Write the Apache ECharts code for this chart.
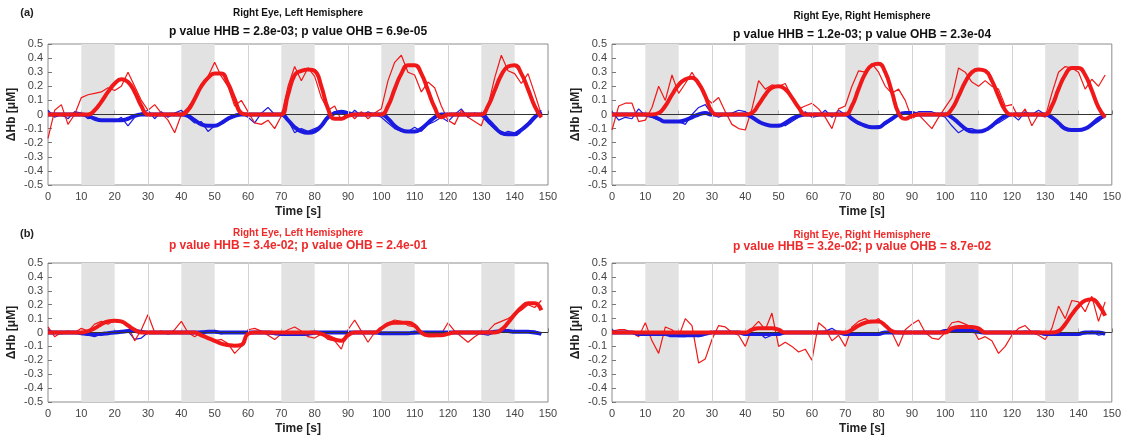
<!DOCTYPE html>
<html>
<head>
<meta charset="utf-8">
<title>Right eye HbO / HbR block averages</title>
<script src="https://cdn.jsdelivr.net/npm/echarts@6/dist/echarts.min.js"></script>
<style>
  html, body { margin: 0; padding: 0; background: #fff; }
  #chart { width: 1124px; height: 439px; }
</style>
</head>
<body>
<div id="chart"></div>
<script>
// sample times [s], one value every 2 s
const time = [
  0, 2, 4, 6, 8, 10, 12, 14, 16, 18,
  20, 22, 24, 26, 28, 30, 32, 34, 36, 38,
  40, 42, 44, 46, 48, 50, 52, 54, 56, 58,
  60, 62, 64, 66, 68, 70, 72, 74, 76, 78,
  80, 82, 84, 86, 88, 90, 92, 94, 96, 98,
  100, 102, 104, 106, 108, 110, 112, 114, 116, 118,
  120, 122, 124, 126, 128, 130, 132, 134, 136, 138,
  140, 142, 144, 146, 148
];

// stimulation blocks (grey)
const stimOnsets = [10, 40, 70, 100, 130];
const stimDuration = 10;
const refLines = [30, 60, 90, 120];

const xTicks = { min: 0, max: 150, step: 10 };
const yTicks = { min: -0.5, max: 0.5, step: 0.1 };

// ---- (a) top left
const tlOxyFit = [
  0, 0, 0, 0, 0, 0, 0, 0.03, 0.09, 0.16,
  0.22, 0.25, 0.23, 0.16, 0.06, 0, 0, 0, 0, 0,
  0, 0.03, 0.11, 0.2, 0.26, 0.29, 0.29, 0.22, 0.11, 0.01,
  0, 0, 0, 0, 0, 0, 0.14, 0.28, 0.31, 0.32,
  0.31, 0.2, 0.04, -0.03, -0.03, -0.01, 0, 0, 0, 0,
  0, 0.06, 0.18, 0.29, 0.35, 0.35, 0.29, 0.17, 0.05, -0.02,
  0, 0, 0, 0, 0, 0, 0.06, 0.17, 0.28, 0.34,
  0.35, 0.29, 0.18, 0.06, -0.02
];
const tlDeoxyFit = [
  0, 0, 0, 0, 0, 0, -0.01, -0.03, -0.04, -0.04,
  -0.04, -0.04, -0.03, -0.01, 0, 0, 0, 0, 0, 0,
  0, -0.01, -0.04, -0.07, -0.08, -0.08, -0.06, -0.03, -0.01, 0,
  0, 0, 0, 0, 0, 0, -0.04, -0.09, -0.12, -0.13,
  -0.12, -0.08, -0.02, 0.01, 0.02, 0.01, 0, 0, 0, 0,
  0, -0.03, -0.08, -0.11, -0.12, -0.12, -0.1, -0.06, -0.02, 0,
  0, 0, 0, 0, 0, 0, -0.04, -0.09, -0.13, -0.14,
  -0.14, -0.11, -0.07, -0.02, 0.02
];
const tlOxyRaw = [
  -0.17, 0.03, 0.07, -0.07, 0.0, 0.12, 0.14, 0.15, 0.16, 0.19,
  0.17, 0.2, 0.3, 0.2, 0.1, 0.03, 0.07, 0.01, -0.04, -0.13,
  0.0, 0.05, 0.12, 0.21, 0.27, 0.37, 0.27, 0.2, 0.06, 0.1,
  0.02, -0.06, -0.07, -0.04, -0.1, -0.01, 0.2, 0.34, 0.24, 0.33,
  0.27, 0.12, 0.03, 0.06, -0.04, 0.02, -0.03, 0.02, -0.03, 0.01,
  0.04, 0.24, 0.37, 0.42, 0.3, 0.28, 0.16, 0.23, 0.19, 0.06,
  -0.04, -0.07, 0.03, -0.02, -0.05, -0.08, 0.06, 0.26, 0.42, 0.31,
  0.29, 0.22, 0.29, 0.15, 0.0
];
const tlDeoxyRaw = [
  0.03, -0.02, 0.0, -0.03, 0.02, 0.01, -0.03, -0.02, -0.04, -0.04,
  -0.05, -0.02, -0.08, -0.02, 0.01, 0.03, -0.03, 0.02, -0.02, 0.01,
  0.03, -0.02, -0.06, -0.05, -0.12, -0.08, -0.06, -0.02, 0.0, 0.01,
  -0.02, -0.06, 0.01, 0.05, 0.0, 0.0, -0.04, -0.13, -0.1, -0.12,
  -0.1, -0.08, -0.03, 0.02, 0.01, -0.02, 0.03, -0.01, 0.02, 0.0,
  -0.02, -0.06, -0.1, -0.12, -0.12, -0.09, -0.12, -0.07, -0.05, -0.02,
  -0.05, 0.0, 0.04, -0.02, 0.01, -0.01, -0.06, -0.1, -0.14, -0.12,
  -0.13, -0.1, -0.06, -0.02, 0.03
];

// ---- (a) top right
const trOxyFit = [
  0, 0, 0, 0, 0, 0, 0, 0.01, 0.06, 0.14,
  0.21, 0.25, 0.26, 0.22, 0.13, 0.02, 0, 0, 0, 0,
  0, 0.01, 0.07, 0.14, 0.19, 0.2, 0.18, 0.12, 0.05, 0,
  0, 0, 0, 0, 0, 0, 0.06, 0.18, 0.29, 0.35,
  0.36, 0.3, 0.16, 0.01, -0.03, -0.01, 0, 0, 0, 0,
  0, 0.04, 0.13, 0.23, 0.3, 0.32, 0.31, 0.24, 0.13, 0.03,
  0, 0, 0, 0, 0, 0, 0.06, 0.18, 0.28, 0.33,
  0.33, 0.28, 0.17, 0.05, -0.02
];
const trDeoxyFit = [
  0, 0, 0, 0, 0, 0, -0.01, -0.03, -0.05, -0.05,
  -0.05, -0.04, -0.02, 0, 0.01, 0, 0, 0, 0, 0,
  0, -0.02, -0.05, -0.07, -0.08, -0.08, -0.06, -0.03, -0.01, 0,
  0, 0, 0, 0, 0, 0, -0.03, -0.06, -0.08, -0.09,
  -0.09, -0.06, -0.03, 0, 0.01, 0.01, 0, 0, 0, 0,
  0, -0.02, -0.06, -0.1, -0.12, -0.12, -0.11, -0.08, -0.04, -0.01,
  0, 0, 0, 0, 0, 0, -0.02, -0.06, -0.1, -0.11,
  -0.11, -0.1, -0.07, -0.03, -0.01
];
const trOxyRaw = [
  -0.11, 0.06, 0.08, 0.08, -0.05, -0.04, 0.05, 0.2, 0.1, 0.28,
  0.15, 0.22, 0.3, 0.22, 0.12, 0.08, 0.12, 0.02, -0.07, -0.1,
  -0.11, 0.04, 0.24, 0.18, 0.21, 0.2, 0.22, 0.12, 0.04, 0.06,
  0.08, 0.04, -0.02, -0.1, 0.04, 0.06, 0.2, 0.31, 0.3, 0.36,
  0.3, 0.2, 0.15, 0.18, 0.1, -0.03, 0.0, -0.05, -0.1, -0.02,
  0.05, 0.12, 0.33, 0.3, 0.23, 0.2, 0.24, 0.2, 0.18, 0.06,
  0.07, -0.02, 0.04, -0.08, 0.0, -0.02, 0.15, 0.3, 0.34, 0.33,
  0.3, 0.18, 0.25, 0.2, 0.28
];
const trDeoxyRaw = [
  0.02, -0.04, -0.02, -0.03, 0.04, -0.01, -0.02, -0.04, -0.05, -0.05,
  -0.05, -0.07, 0.0, 0.05, 0.07, 0.0, -0.02, 0.0, 0.01, 0.03,
  0.02, -0.01, -0.06, -0.07, -0.08, -0.07, -0.08, -0.05, -0.02, 0.02,
  -0.02, -0.01, 0.03, -0.02, 0.03, 0.0, -0.04, -0.07, -0.08, -0.09,
  -0.08, -0.07, -0.04, 0.0, 0.01, 0.0, 0.02, 0.02, 0.02, 0.0,
  -0.02, -0.08, -0.13, -0.1, -0.1, -0.12, -0.11, -0.08, -0.06, -0.03,
  0.0, -0.04, 0.02, 0.0, 0.03, 0.0, -0.03, -0.06, -0.09, -0.11,
  -0.1, -0.1, -0.08, -0.05, -0.01
];

// ---- (b) bottom left
const blOxyFit = [
  0, 0, 0, 0, 0, 0, 0.01, 0.03, 0.06, 0.08,
  0.085, 0.08, 0.05, 0.02, 0, 0, 0, 0, 0, 0,
  0, 0, 0, -0.02, -0.04, -0.06, -0.08, -0.09, -0.095, -0.09,
  -0.01, 0, 0, 0, 0, 0, 0, 0, 0, 0,
  0, -0.01, -0.03, -0.05, -0.06, -0.02, 0, 0, 0, 0,
  0.03, 0.06, 0.07, 0.07, 0.07, 0.05, 0, -0.02, -0.02, -0.02,
  -0.01, 0, 0, 0, 0, 0, 0, 0, 0.02, 0.07,
  0.13, 0.18, 0.21, 0.21, 0.16
];
const blDeoxyFit = [
  0, 0, 0, 0, 0, -0.005, -0.01, -0.01, -0.01, -0.005,
  0, 0.005, 0.01, 0.01, 0.005, 0, 0, 0, 0, 0,
  0, 0, 0, 0, 0.005, 0.005, 0, 0, 0, 0,
  0, 0, 0, 0, -0.005, -0.01, -0.01, -0.01, -0.01, -0.005,
  0, 0, 0, 0, 0, 0, 0, 0, 0, 0,
  -0.005, -0.005, -0.005, -0.005, -0.005, 0, 0, 0, 0, 0,
  0, 0, 0, 0, 0, 0, 0, 0.005, 0.01, 0.01,
  0.005, 0.005, 0.005, 0, -0.01
];
const blOxyRaw = [
  0.04, -0.03, 0.0, 0.01, 0.0, 0.03, 0.01, 0.06, 0.08, 0.06,
  0.09, 0.07, 0.05, -0.06, 0.02, 0.13, 0.0, 0.01, -0.01, 0.02,
  0.08, 0.0, -0.03, 0.0, -0.04, -0.06, -0.05, -0.08, -0.15, -0.1,
  0.02, 0.03, 0.01, -0.02, -0.05, -0.01, 0.02, 0.04, 0.01, -0.03,
  -0.04, -0.01, -0.05, -0.06, -0.12, 0.02, 0.09, 0.01, -0.07, 0.0,
  0.03, 0.07, 0.09, 0.08, 0.05, 0.04, 0.0, -0.03, -0.03, -0.01,
  0.07, 0.01, -0.03, -0.07, -0.03, 0.0, 0.01, 0.06, 0.08, 0.1,
  0.13, 0.16, 0.2, 0.18, 0.23
];
const blDeoxyRaw = [
  0.02, 0.0, -0.01, 0.0, 0.0, -0.01, -0.02, -0.03, -0.01, 0.0,
  0.01, 0.01, 0.01, -0.05, -0.04, 0.0, 0.0, 0.0, -0.01, 0.0,
  0.0, 0.0, 0.0, 0.01, 0.01, 0.0, -0.01, 0.0, 0.0, 0.0,
  0.0, 0.0, 0.0, -0.01, -0.01, -0.01, -0.02, -0.02, -0.02, -0.02,
  -0.01, 0.0, 0.0, 0.0, 0.0, 0.0, 0.0, 0.0, 0.0, 0.0,
  -0.01, -0.01, -0.01, -0.01, -0.01, -0.01, 0.0, 0.0, 0.0, 0.0,
  0.0, 0.0, 0.0, 0.0, 0.0, -0.01, -0.02, 0.0, 0.01, 0.02,
  0.0, 0.0, 0.01, 0.01, -0.01
];

// ---- (b) bottom right
const brOxyFit = [
  0, 0, 0, 0, 0, 0, 0, 0, 0, 0,
  0, 0, 0, 0, 0, 0, 0, 0, 0, 0,
  0, 0.02, 0.03, 0.03, 0.03, 0.02, 0, 0, 0, 0,
  0, 0, 0, 0, 0, 0, 0.02, 0.05, 0.07, 0.08,
  0.08, 0.05, 0.01, 0, 0, 0, 0, 0, 0, 0,
  0, 0.03, 0.04, 0.04, 0.04, 0.03, 0, 0, 0, 0,
  0, 0, 0, 0, 0, 0, 0, 0.01, 0.06, 0.13,
  0.19, 0.23, 0.24, 0.2, 0.12
];
const brDeoxyFit = [
  0, 0, 0, 0, -0.01, -0.01, -0.01, -0.01, -0.01, -0.02,
  -0.02, -0.02, -0.02, -0.02, -0.01, 0, 0, 0, 0, 0,
  -0.01, -0.01, -0.01, -0.01, -0.01, -0.01, 0, 0, 0, 0,
  0, 0, 0, 0, 0, -0.01, -0.01, -0.01, -0.01, -0.01,
  -0.01, 0, 0, 0, 0, 0, 0, 0, 0, 0,
  0.01, 0.01, 0.01, 0.01, 0.01, 0.005, 0, 0, 0, 0,
  0, 0, 0, 0, 0, -0.01, -0.01, -0.01, -0.01, -0.01,
  -0.01, 0, 0, 0, -0.01
];
const brOxyRaw = [
  0.01, 0.02, 0.02, 0.0, -0.03, 0.07, -0.06, -0.15, 0.04, 0.02,
  -0.03, 0.1, 0.05, -0.22, -0.19, -0.05, 0.05, 0.04, 0.0, -0.02,
  -0.1, 0.03, 0.08, 0.02, 0.14, -0.1, -0.07, -0.1, -0.14, -0.12,
  -0.2, 0.07, 0.03, -0.06, -0.02, -0.1, 0.04, 0.08, 0.1, 0.07,
  0.1, 0.05, 0.0, -0.1, 0.02, 0.06, 0.09, 0.0, -0.04, -0.05,
  0.0, 0.07, 0.08, 0.06, 0.04, -0.05, -0.03, -0.06, -0.15, -0.1,
  -0.02, 0.03, 0.05, 0.0, -0.02, -0.05, 0.03, 0.19, 0.1, 0.23,
  0.22, 0.15, 0.26, 0.08, 0.22
];
const brDeoxyRaw = [
  0.02, 0.0, 0.0, 0.0, -0.02, -0.02, 0.0, -0.01, -0.02, -0.02,
  -0.03, -0.03, -0.02, -0.03, -0.01, 0.0, 0.0, 0.0, 0.0, 0.0,
  -0.01, -0.01, 0.0, -0.04, -0.02, -0.01, 0.0, 0.0, 0.0, 0.0,
  0.0, 0.0, 0.01, 0.03, 0.0, -0.01, -0.02, -0.02, -0.01, -0.02,
  -0.01, 0.0, 0.01, 0.0, 0.0, 0.0, 0.0, 0.0, 0.0, 0.0,
  0.01, 0.02, 0.01, 0.02, 0.01, 0.0, 0.0, 0.0, 0.0, 0.0,
  0.0, 0.0, 0.01, 0.0, 0.0, -0.01, -0.01, -0.01, -0.01, -0.01,
  0.0, -0.01, 0.01, -0.02, -0.01
];

const panelHeadings = [
  "Right Eye, Left Hemisphere",
  "Right Eye, Right Hemisphere",
  "Right Eye, Left Hemisphere",
  "Right Eye, Right Hemisphere"
];
const panelPValues = [
  "p value HHB = 2.8e-03; p value OHB = 6.9e-05",
  "p value HHB = 1.2e-03; p value OHB = 2.3e-04",
  "p value HHB = 3.4e-02; p value OHB = 2.4e-01",
  "p value HHB = 3.2e-02; p value OHB = 8.7e-02"
];

const RED = "#f01818";
const BLUE = "#1a1ae0";
const FONT = "'Liberation Sans', Arial, sans-serif";

const panels = [
  { grid: { left: 48, top: 44, width: 500, height: 141 }, oxyRaw: tlOxyRaw, oxyFit: tlOxyFit, deoxyRaw: tlDeoxyRaw, deoxyFit: tlDeoxyFit, titleColor: "#111", headY: 13, pY: 32 },
  { grid: { left: 612, top: 44, width: 500, height: 141 }, oxyRaw: trOxyRaw, oxyFit: trOxyFit, deoxyRaw: trDeoxyRaw, deoxyFit: trDeoxyFit, titleColor: "#111", headY: 16, pY: 35 },
  { grid: { left: 48, top: 263, width: 500, height: 139 }, oxyRaw: blOxyRaw, oxyFit: blOxyFit, deoxyRaw: blDeoxyRaw, deoxyFit: blDeoxyFit, titleColor: "#ee2a2a", headY: 233, pY: 246 },
  { grid: { left: 612, top: 263, width: 500, height: 139 }, oxyRaw: brOxyRaw, oxyFit: brOxyFit, deoxyRaw: brDeoxyRaw, deoxyFit: brDeoxyFit, titleColor: "#ee2a2a", headY: 235, pY: 247 }
];

const pairs = (values) => values.map((v, i) => [time[i], v]);

const grids = [];
const xAxes = [];
const yAxes = [];
const series = [];
const graphics = [];

panels.forEach((p, i) => {
  grids.push(Object.assign({ show: true, borderColor: "#8c8c8c", borderWidth: 1, backgroundColor: "transparent" }, p.grid));

  xAxes.push({
    gridIndex: i, type: "value",
    min: xTicks.min, max: xTicks.max, interval: xTicks.step,
    name: "Time [s]", nameLocation: "middle", nameGap: 21,
    nameTextStyle: { fontFamily: FONT, fontSize: 12, fontWeight: "bold", color: "#222" },
    axisLine: { show: false },
    axisTick: { show: true, inside: true, length: 4, lineStyle: { color: "#777" } },
    axisLabel: { fontFamily: FONT, fontSize: 11, color: "#444", margin: 6 },
    splitLine: { show: false }
  });

  yAxes.push({
    gridIndex: i, type: "value",
    min: yTicks.min, max: yTicks.max, interval: yTicks.step,
    name: "\u0394Hb [\u03bcM]", nameLocation: "middle", nameGap: 30, nameRotate: 90,
    nameTextStyle: { fontFamily: FONT, fontSize: 12, fontWeight: "bold", color: "#222" },
    axisLine: { show: false },
    axisTick: { show: true, inside: true, length: 4, lineStyle: { color: "#777" } },
    axisLabel: {
      fontFamily: FONT, fontSize: 11, color: "#444", margin: 5,
      formatter: (v) => (Math.abs(v) < 1e-9 ? "0" : v.toFixed(1))
    },
    splitLine: { show: false }
  });

  const base = { type: "line", xAxisIndex: i, yAxisIndex: i, showSymbol: false, symbol: "none", silent: true, animation: false };

  series.push(Object.assign({}, base, {
    name: "HHB raw " + i,
    data: pairs(p.deoxyRaw),
    lineStyle: { color: BLUE, width: 1.2 },
    z: 2,
    markArea: {
      silent: true,
      itemStyle: { color: "#e2e2e2" },
      data: stimOnsets.map((s) => [{ xAxis: s }, { xAxis: s + stimDuration }])
    },
    markLine: {
      silent: true, symbol: "none", label: { show: false },
      lineStyle: { color: "#d4d4d4", width: 1, type: "solid" },
      data: refLines.map((x) => ({ xAxis: x }))
    }
  }));
  series.push(Object.assign({}, base, {
    name: "OHB raw " + i,
    data: pairs(p.oxyRaw),
    lineStyle: { color: RED, width: 1.2 },
    z: 3
  }));
  series.push(Object.assign({}, base, {
    name: "HHB fit " + i,
    data: pairs(p.deoxyFit),
    smooth: true,
    lineStyle: { color: BLUE, width: 4 },
    z: 4
  }));
  series.push(Object.assign({}, base, {
    name: "OHB fit " + i,
    data: pairs(p.oxyFit),
    smooth: true,
    lineStyle: { color: RED, width: 4 },
    z: 5,
    markLine: {
      silent: true, symbol: "none", label: { show: false },
      lineStyle: { color: "#333", width: 1.2, type: "solid" },
      data: [{ yAxis: 0 }]
    }
  }));

  const cx = p.grid.left + p.grid.width / 2;
  graphics.push({
    type: "text", x: cx, y: p.headY, silent: true,
    style: { text: panelHeadings[i], fill: p.titleColor, font: "bold 10px " + FONT, textAlign: "center", textVerticalAlign: "middle" }
  });
  graphics.push({
    type: "text", x: cx, y: p.pY, silent: true,
    style: { text: panelPValues[i], fill: p.titleColor, font: "bold 12px " + FONT, textAlign: "center", textVerticalAlign: "middle" }
  });
});

graphics.push({ type: "text", x: 27, y: 13, silent: true, style: { text: "(a)", fill: "#222", font: "bold 11px " + FONT, textAlign: "center", textVerticalAlign: "middle" } });
graphics.push({ type: "text", x: 27, y: 234, silent: true, style: { text: "(b)", fill: "#222", font: "bold 11px " + FONT, textAlign: "center", textVerticalAlign: "middle" } });

const chart = echarts.init(document.getElementById("chart"));
chart.setOption({
  animation: false,
  backgroundColor: "#fff",
  grid: grids,
  xAxis: xAxes,
  yAxis: yAxes,
  series: series,
  graphic: graphics
});
</script>
</body>
</html>
